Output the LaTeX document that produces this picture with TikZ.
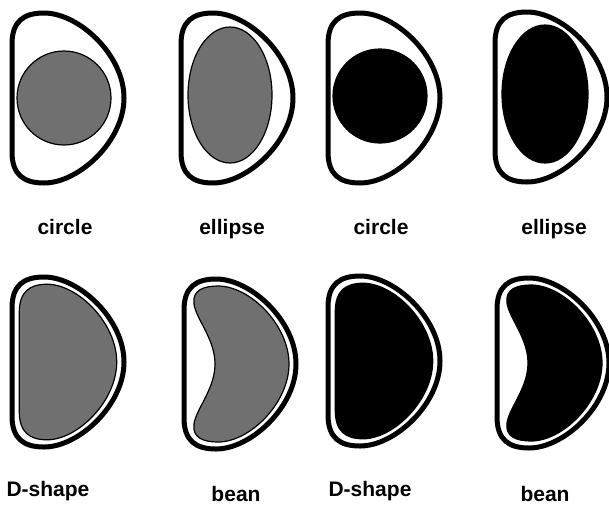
\documentclass[tikz,border=0pt]{standalone}
\usepackage{fontspec}
\setmainfont{Liberation Sans}
\newcommand{\outerD}{(0,54) -- (0,-54) .. controls (0,-77) and (12,-85) .. (32,-85) .. controls (67,-85) and (112,-43) .. (112,0) .. controls (112,43) and (67,85) .. (32,85) .. controls (12,85) and (0,77) .. (0,54) -- cycle}
\newcommand{\beanD}{(31,0) .. controls (31,25) and (12,45) .. (10,60) .. controls (8,74) and (20,78) .. (34,78) .. controls (66,78) and (105,39) .. (105,0) .. controls (105,-39) and (66,-78) .. (34,-78) .. controls (20,-78) and (8,-74) .. (10,-60) .. controls (12,-45) and (31,-25) .. (31,0) -- cycle}
\tikzset{
  rim/.style={line width=5pt, line join=round},
  stipple/.style={fill=black!56, draw=black, line width=1.2pt},
  solidblack/.style={fill=black, draw=black, line width=1.2pt},
  shrink/.style={shift={(56,0)}, xscale=0.87, yscale=0.915, shift={(-56,0)}},
  shapename/.style={font=\bfseries\fontsize{21}{25}\selectfont, anchor=base, inner sep=0pt}
}
\begin{document}
\begin{tikzpicture}[x=1pt,y=-1pt]
\useasboundingbox (0,0) rectangle (609,504);
% top row
\begin{scope}[shift={(12,98)}]
  \draw[rim] \outerD;
  \draw[stipple] (52,0) circle (47);
\end{scope}
\begin{scope}[shift={(181,98)}]
  \draw[rim] \outerD;
  \draw[stipple] (49,-3) ellipse [x radius=42, y radius=68];
\end{scope}
\begin{scope}[shift={(328,98)}]
  \draw[rim] \outerD;
  \draw[solidblack] (52,-2) circle (47);
\end{scope}
\begin{scope}[shift={(495,97)}]
  \draw[rim] \outerD;
  \draw[solidblack] (50,-3) ellipse [x radius=43, y radius=69];
\end{scope}
\node[shapename] (circleA) at (65,234) {circle};
\node[shapename] (ellipseA) at (232,234) {ellipse};
\node[shapename] (circleB) at (381,234) {circle};
\node[shapename] (ellipseB) at (554,234) {ellipse};
% bottom row
\begin{scope}[shift={(12,362)}]
  \draw[rim] \outerD;
  \draw[stipple, shrink] \outerD;
\end{scope}
\begin{scope}[shift={(184,364)}]
  \draw[rim] \outerD;
  \draw[stipple] \beanD;
\end{scope}
\begin{scope}[shift={(328,361)}]
  \draw[rim] \outerD;
  \draw[solidblack, shrink] \outerD;
\end{scope}
\begin{scope}[shift={(497,363)}]
  \draw[rim] \outerD;
  \draw[solidblack] \beanD;
\end{scope}
\node[shapename] (dshapeA) at (48,496) {D-shape};
\node[shapename] (beanA) at (236,501) {bean};
\node[shapename] (dshapeB) at (370,496) {D-shape};
\node[shapename] (beanB) at (545,501) {bean};
\end{tikzpicture}
\end{document}
